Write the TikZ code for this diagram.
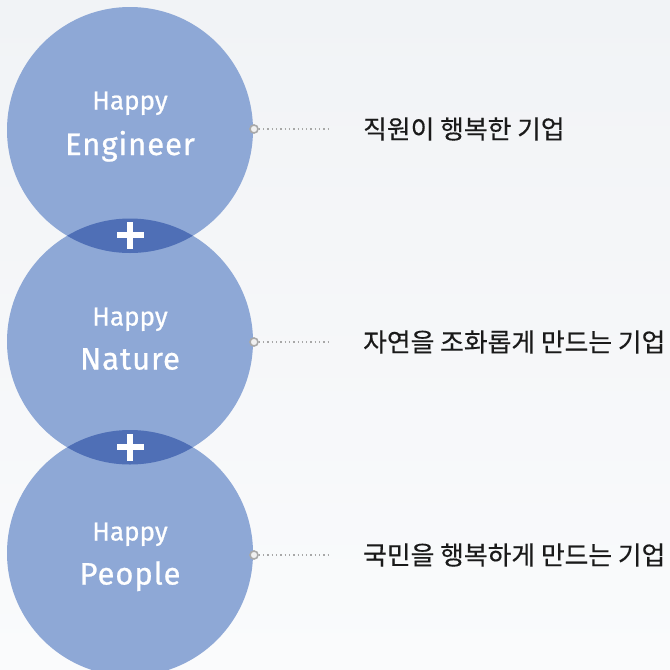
\documentclass[tikz,border=0pt]{standalone}
\usepackage{fontspec}
\setmainfont{Fira Sans}
\newfontfamily\kr{Noto Sans CJK KR}
\definecolor{circ}{HTML}{8EA8D6}
\definecolor{lenscol}{HTML}{4F6FB6}
\definecolor{markcol}{HTML}{A8A8A8}
\definecolor{krtext}{HTML}{1A1A1A}
\definecolor{bgtop}{HTML}{F1F3F6}
\definecolor{bgbot}{HTML}{FAFBFC}
\begin{document}
\begin{tikzpicture}[x=1pt,y=-1pt,
  ball/.style={circle,fill=circ,minimum size=246pt,inner sep=0pt,draw=none},
  happy/.style={anchor=base,text=white,font=\addfontfeatures{FakeBold=0.8}\fontsize{26}{26}\selectfont,inner sep=0pt},
  word/.style={anchor=base,text=white,font=\addfontfeatures{LetterSpace=3,FakeBold=0.8}\fontsize{31}{31}\selectfont,inner sep=0pt},
  marker/.style={circle,draw=markcol,fill=white!94!black,line width=1.6pt,minimum size=8pt,inner sep=0pt},
  leader/.style={draw=markcol,line width=1.4pt,dash pattern=on 1.3pt off 3pt},
  label/.style={anchor=west,text=krtext,font=\kr\addfontfeatures{FakeBold=0.4}\fontsize{25.8}{26}\selectfont,inner sep=0pt},
  plusbar/.style={fill=white}]
\shade[top color=bgtop,bottom color=bgbot] (0,0) rectangle (670,670);
\useasboundingbox (0,0) rectangle (670,670);

\node[ball] (e) at (130,130) {};
\node[ball] (n) at (130,341.5) {};
\node[ball] (p) at (130,553) {};

\begin{scope}
  \clip (e.center) circle[radius=123pt];
  \fill[lenscol] (n.center) circle[radius=123pt];
\end{scope}
\begin{scope}
  \clip (n.center) circle[radius=123pt];
  \fill[lenscol] (p.center) circle[radius=123pt];
\end{scope}

\coordinate (plus1) at (130.3,235.3);
\coordinate (plus2) at (130.3,447.3);
\foreach \c in {plus1,plus2}{
  \fill[plusbar] ([shift={(-13.8pt,-3pt)}]\c) rectangle ([shift={(13.8pt,3pt)}]\c);
  \fill[plusbar] ([shift={(-3pt,-13.8pt)}]\c) rectangle ([shift={(3pt,13.8pt)}]\c);
}

\node[happy] (eh) at (130,109.5) {Happy};
\node[word]  (ew) at (130,155) {Engineer};
\node[happy] (nh) at (130,325.5) {Happy};
\node[word]  (nw) at (130,369.5) {Nature};
\node[happy] (ph) at (130,540.5) {Happy};
\node[word]  (pw) at (130,584.5) {People};

\node[marker] (m1) at (254,129) {};
\node[marker] (m2) at (254,342) {};
\node[marker] (m3) at (254,555) {};
\coordinate (d1) at (329,129);
\coordinate (d2) at (329,342);
\coordinate (d3) at (329,555);
\draw[leader] (m1.east) -- (d1);
\draw[leader] (m2.east) -- (d2);
\draw[leader] (m3.east) -- (d3);

\node[label] (t1) at (363,129) {직원이 행복한 기업};
\node[label] (t2) at (363,342) {자연을 조화롭게 만드는 기업};
\node[label] (t3) at (363,555) {국민을 행복하게 만드는 기업};
\end{tikzpicture}
\end{document}
